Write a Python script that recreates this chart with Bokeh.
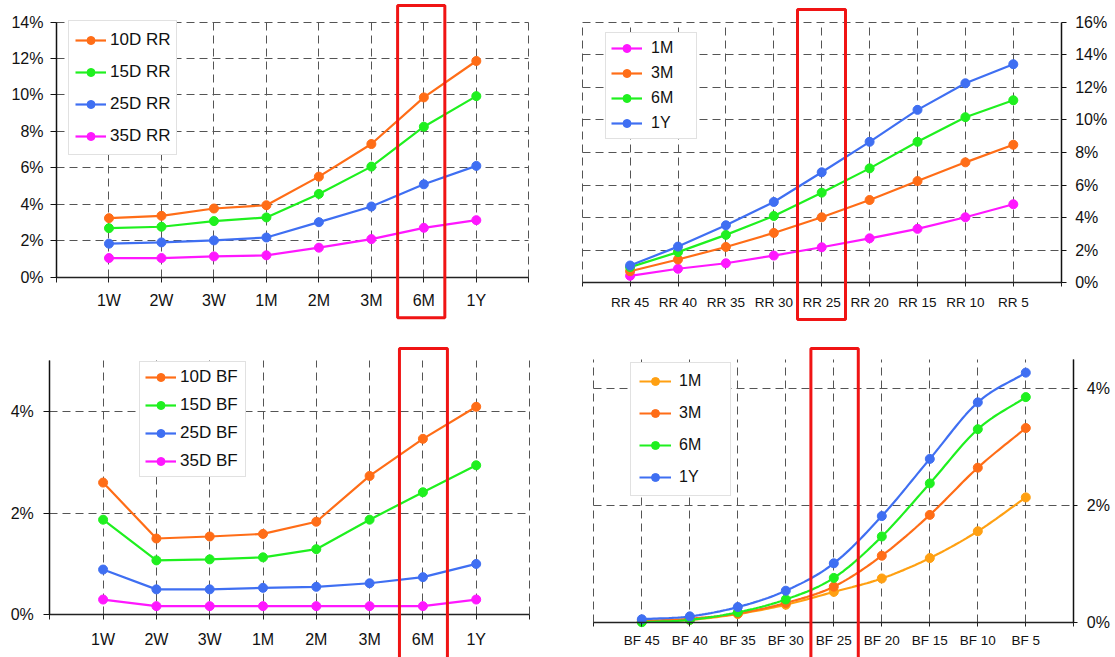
from bokeh.plotting import figure
from bokeh.models import Range1d, FixedTicker, PrintfTickFormatter, BoxAnnotation
from bokeh.layouts import row, column
from bokeh.embed import file_html
from bokeh.resources import INLINE

# ---------------- data (values in %) ----------------
tenors = ["1W", "2W", "3W", "1M", "2M", "3M", "6M", "1Y"]
rr_10d = [3.23, 3.36, 3.76, 3.94, 5.51, 7.30, 9.86, 11.86]
rr_15d = [2.68, 2.76, 3.07, 3.27, 4.56, 6.06, 8.25, 9.93]
rr_25d = [1.83, 1.90, 2.01, 2.17, 3.01, 3.87, 5.09, 6.10]
rr_35d = [1.04, 1.04, 1.13, 1.19, 1.61, 2.08, 2.70, 3.12]

rr_strikes = ["RR 45", "RR 40", "RR 35", "RR 30", "RR 25", "RR 20", "RR 15", "RR 10", "RR 5"]
rr_1m = [0.43, 0.86, 1.20, 1.67, 2.18, 2.73, 3.31, 4.02, 4.82]
rr_3m = [0.71, 1.43, 2.20, 3.06, 4.02, 5.08, 6.24, 7.39, 8.47]
rr_6m = [0.96, 1.88, 2.94, 4.10, 5.53, 7.02, 8.65, 10.16, 11.20]
rr_1y = [1.06, 2.22, 3.53, 4.96, 6.78, 8.65, 10.61, 12.24, 13.41]

bf_10d = [2.60, 1.50, 1.54, 1.59, 1.83, 2.73, 3.46, 4.09]
bf_15d = [1.87, 1.07, 1.09, 1.13, 1.29, 1.87, 2.41, 2.94]
bf_25d = [0.89, 0.50, 0.50, 0.53, 0.55, 0.62, 0.74, 1.00]
bf_35d = [0.30, 0.17, 0.17, 0.17, 0.17, 0.17, 0.17, 0.30]

bf_strikes = ["BF 45", "BF 40", "BF 35", "BF 30", "BF 25", "BF 20", "BF 15", "BF 10", "BF 5"]
bf_1m = [0.01, 0.04, 0.14, 0.30, 0.52, 0.75, 1.10, 1.56, 2.14]
bf_3m = [0.02, 0.06, 0.15, 0.33, 0.61, 1.14, 1.84, 2.65, 3.33]
bf_6m = [0.00, 0.04, 0.17, 0.39, 0.76, 1.47, 2.38, 3.31, 3.86]
bf_1y = [0.05, 0.10, 0.26, 0.54, 1.01, 1.82, 2.80, 3.77, 4.28]

# ---------------- styles ----------------
ORANGE = "#ff6d17"
AMBER = "#ffa012"
GREEN = "#1ff01f"
BLUE = "#3f6ff2"
MAGENTA = "#ff17ff"
RED = "#f01414"
FONT = "Liberation Sans"
GRID = "#555555"


def smooth(xs, ys, n=16):
    """Catmull-Rom rendering path through the given points."""
    ox, oy = [], []
    m = len(xs)
    for i in range(m - 1):
        i0, i3 = max(i - 1, 0), min(i + 2, m - 1)
        x1, x2, y1, y2 = xs[i], xs[i + 1], ys[i], ys[i + 1]
        tx1 = (xs[i + 1] - xs[i0]) / 2.0 if i0 != i else (x2 - x1)
        ty1 = (ys[i + 1] - ys[i0]) / 2.0 if i0 != i else (y2 - y1)
        tx2 = (xs[i3] - xs[i]) / 2.0 if i3 != i + 1 else (x2 - x1)
        ty2 = (ys[i3] - ys[i]) / 2.0 if i3 != i + 1 else (y2 - y1)
        for k in range(n):
            t = k / n
            h00 = 2 * t**3 - 3 * t**2 + 1
            h10 = t**3 - 2 * t**2 + t
            h01 = -2 * t**3 + 3 * t**2
            h11 = t**3 - t**2
            ox.append(h00 * x1 + h10 * tx1 + h01 * x2 + h11 * tx2)
            oy.append(h00 * y1 + h10 * ty1 + h01 * y2 + h11 * ty2)
    ox.append(xs[-1])
    oy.append(ys[-1])
    return ox, oy


def make_fig(cats, y_max, y_ticks, y_side, width, height, plot_px,
             x_font, x_standoff, x_tick_out, y_standoff, y_tick_out):
    """plot_px = (left, right, bottom, top) pixel position of the axes box in the canvas.
    The frame covers the whole canvas; axes are fixed at the box edges so that the
    highlight frame can extend over the tick-label area."""
    n = len(cats)
    x_max = n + 1
    pl, pr, pb, pt = plot_px
    kx = x_max / (pr - pl)
    ky = y_max / (pb - pt)
    x_range = Range1d(-pl * kx, x_max + (width - pr) * kx)
    y_range = Range1d(-(height - pb) * ky, y_max + pt * ky)
    p = figure(width=width, height=height, output_backend="svg", toolbar_location=None,
               x_range=x_range, y_range=y_range, y_axis_location=y_side, align="start",
               min_border=0)
    p.outline_line_color = None
    p.background_fill_color = "white"
    p.border_fill_color = "white"

    xt = FixedTicker(ticks=list(range(0, n + 2)))
    p.xaxis.ticker = xt
    p.xgrid.ticker = xt
    p.xaxis.fixed_location = 0
    p.xaxis.bounds = (0, x_max)
    overrides = {0: "", n + 1: ""}
    for i, c in enumerate(cats):
        overrides[i + 1] = c
    p.xaxis.major_label_overrides = overrides
    p.xaxis.major_tick_out = x_tick_out
    p.xaxis.major_tick_in = 0
    p.xaxis.minor_tick_line_color = None
    p.xaxis.axis_line_color = "#222222"
    p.xaxis.axis_line_width = 1.3
    p.xaxis.major_tick_line_color = "#222222"
    p.xaxis.major_label_text_font = FONT
    p.xaxis.major_label_text_font_size = x_font
    p.xaxis.major_label_text_color = "#111111"
    p.xaxis.major_label_standoff = x_standoff

    yt = FixedTicker(ticks=y_ticks)
    p.yaxis.ticker = yt
    p.ygrid.ticker = yt
    p.yaxis.fixed_location = 0 if y_side == "left" else x_max
    p.yaxis.bounds = (0, y_max)
    p.yaxis.formatter = PrintfTickFormatter(format="%d%%")
    p.yaxis.major_tick_out = y_tick_out
    p.yaxis.major_tick_in = 0
    p.yaxis.minor_tick_line_color = None
    p.yaxis.axis_line_color = "#111111"
    p.yaxis.axis_line_width = 1.5
    p.yaxis.major_tick_line_color = "#111111"
    p.yaxis.major_label_text_font = FONT
    p.yaxis.major_label_text_font_size = "16px"
    p.yaxis.major_label_text_color = "#111111"
    p.yaxis.major_label_standoff = y_standoff

    p.xgrid.cross_bounds = (0, y_max)
    p.ygrid.cross_bounds = (0, x_max)
    for g in (p.xgrid, p.ygrid):
        g.grid_line_color = GRID
        g.grid_line_dash = "8 5"
        g.grid_line_width = 1
    return p


def add_series(p, cats, series, smooth_lines=False):
    xs = [i + 1 for i in range(len(cats))]
    for name, vals, color in series:
        if smooth_lines:
            lx, ly = smooth(xs, vals)
        else:
            lx, ly = xs, vals
        p.line(lx, ly, line_color=color, line_width=2.2, legend_label=name)
        p.scatter(xs, vals, size=9, fill_color=color, line_color=color, legend_label=name)


def style_legend(p, loc, font, padding, spacing, glyph_w, glyph_h, label_h, standoff, label_w):
    lg = p.legend[0]
    lg.location = loc
    lg.label_text_font = FONT
    lg.label_text_font_size = font
    lg.label_text_color = "#111111"
    lg.padding = padding
    lg.spacing = spacing
    lg.glyph_width = glyph_w
    lg.glyph_height = glyph_h
    lg.label_height = label_h
    lg.label_standoff = standoff
    lg.label_width = label_w
    lg.margin = 0
    lg.border_line_color = "#c4c4c4"
    lg.border_line_width = 1.5
    lg.background_fill_color = "white"
    lg.background_fill_alpha = 1.0


def highlight(p, cats, cat, lo, hi, top, bottom):
    c = cats.index(cat) + 1
    p.add_layout(BoxAnnotation(left=c + lo, right=c + hi, top=top, bottom=bottom,
                               fill_color=None, line_color=RED, line_alpha=1.0,
                               line_width=3))


# ---------------- panel 1: RR term structure ----------------
p1 = make_fig(tenors, 14, list(range(0, 15, 2)), "left", 555, 340, (56, 528.3, 276.5, 21.5),
              "16px", 10, 5, 7, 6)
add_series(p1, tenors, [("10D RR", rr_10d, ORANGE), ("15D RR", rr_15d, GREEN),
                        ("25D RR", rr_25d, BLUE), ("35D RR", rr_35d, MAGENTA)])
style_legend(p1, (68, 185), "17px", 6, 7, 31, 20, 25, 4, 58)
highlight(p1, tenors, "6M", -0.50, 0.40, 14.91, -2.24)

# ---------------- panel 2: RR smile ----------------
p2 = make_fig(rr_strikes, 16, list(range(0, 17, 2)), "right", 560, 340, (26.7, 505.7, 282.3, 21.5),
              "13.5px", 8, 4, 9, 5)
add_series(p2, rr_strikes, [("1M", rr_1m, MAGENTA), ("3M", rr_3m, ORANGE),
                            ("6M", rr_6m, GREEN), ("1Y", rr_1y, BLUE)])
style_legend(p2, (50, 201), "16px", 5, 5, 31, 20, 20, 9, 40)
highlight(p2, rr_strikes, "RR 25", -0.505, 0.497, 16.77, -2.25)

# ---------------- panel 3: BF term structure ----------------
p3 = make_fig(tenors, 5, [0, 2, 4], "left", 555, 317, (49.3, 529, 274.3, 20),
              "16px", 11, 5, 10, 6)
add_series(p3, tenors, [("10D BF", bf_10d, ORANGE), ("15D BF", bf_15d, GREEN),
                        ("25D BF", bf_25d, BLUE), ("35D BF", bf_35d, MAGENTA)])
style_legend(p3, (139, 180), "17px", 5, 8, 31, 20, 20, 4, 60)
highlight(p3, tenors, "6M", -0.44, 0.46, 5.236, -2.0)

# ---------------- panel 4: BF smile ----------------
p4 = make_fig(bf_strikes, 4.5, [0, 2, 4], "right", 560, 317, (38.3, 518.3, 281.7, 19.3),
              "13.5px", 7, 4, 9, 4)
add_series(p4, bf_strikes, [("1M", bf_1m, AMBER), ("3M", bf_3m, ORANGE),
                            ("6M", bf_6m, GREEN), ("1Y", bf_1y, BLUE)], smooth_lines=True)
style_legend(p4, (75, 161), "16px", 8, 12, 32, 20, 20, 8, 43)
highlight(p4, bf_strikes, "BF 25", -0.477, 0.51, 4.694, -1.0)

layout = column(row(p1, p2, spacing=0), row(p3, p4, spacing=0), spacing=0)

open("out.html", "w").write(file_html(layout, INLINE))
